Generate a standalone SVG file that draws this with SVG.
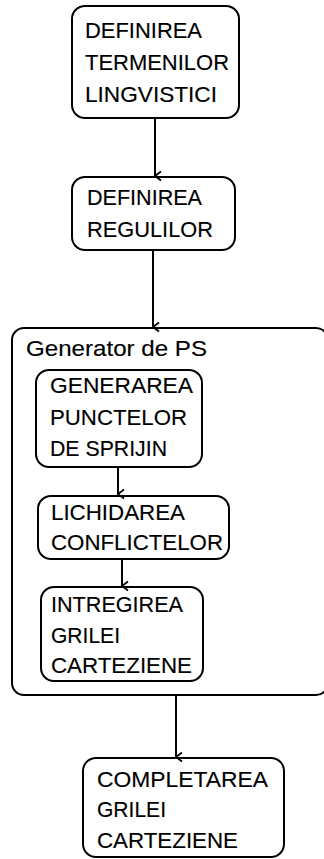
<svg xmlns="http://www.w3.org/2000/svg" width="324" height="859" viewBox="0 0 324 859">
<defs>
<style>
.box{fill:#fff;stroke:#000;stroke-width:2}
.grp{fill:none;stroke:#000;stroke-width:2}
.t{font-family:"Liberation Sans",Arial,sans-serif;font-size:22.5px;fill:#000;stroke:#000;stroke-width:0.15}
.c{stroke:#000;stroke-width:2;fill:none}
</style>
<marker id="arr" markerWidth="12" markerHeight="12" refX="6" refY="9" orient="auto" markerUnits="userSpaceOnUse" viewBox="0 0 12 12">
<path d="M1.5,3 L6,9 L10.5,3" fill="none" stroke="#000" stroke-width="1.8"/>
</marker>
</defs>
<rect width="324" height="859" fill="#fff"/>
<g id="generator">
<rect class="grp" x="12" y="328" width="316" height="367" rx="12"/>
<text class="t" x="26" y="356" textLength="181" lengthAdjust="spacingAndGlyphs">Generator de PS</text>
</g>
<g id="n1">
<rect class="box" x="72" y="6" width="167" height="112" rx="13"/>
<text class="t" x="85" y="38" textLength="117" lengthAdjust="spacingAndGlyphs">DEFINIREA</text>
<text class="t" x="85" y="70" textLength="144" lengthAdjust="spacingAndGlyphs">TERMENILOR</text>
<text class="t" x="85" y="102" textLength="132" lengthAdjust="spacingAndGlyphs">LINGVISTICI</text>
</g>
<g id="n2">
<rect class="box" x="72" y="177" width="163" height="73" rx="13"/>
<text class="t" x="87" y="205" textLength="115" lengthAdjust="spacingAndGlyphs">DEFINIREA</text>
<text class="t" x="87" y="237" textLength="126" lengthAdjust="spacingAndGlyphs">REGULILOR</text>
</g>
<g id="n3">
<rect class="box" x="36" y="370" width="166" height="97" rx="13"/>
<text class="t" x="50" y="393" textLength="143" lengthAdjust="spacingAndGlyphs">GENERAREA</text>
<text class="t" x="50" y="425" textLength="137" lengthAdjust="spacingAndGlyphs">PUNCTELOR</text>
<text class="t" x="50" y="456" textLength="117" lengthAdjust="spacingAndGlyphs">DE SPRIJIN</text>
</g>
<g id="n4">
<rect class="box" x="38" y="496" width="191" height="63" rx="13"/>
<text class="t" x="51" y="520" textLength="134" lengthAdjust="spacingAndGlyphs">LICHIDAREA</text>
<text class="t" x="51" y="550" textLength="172" lengthAdjust="spacingAndGlyphs">CONFLICTELOR</text>
</g>
<g id="n5">
<rect class="box" x="41" y="587" width="162" height="94" rx="13"/>
<text class="t" x="51" y="612" textLength="132" lengthAdjust="spacingAndGlyphs">INTREGIREA</text>
<text class="t" x="51" y="643" textLength="69" lengthAdjust="spacingAndGlyphs">GRILEI</text>
<text class="t" x="51" y="673" textLength="141" lengthAdjust="spacingAndGlyphs">CARTEZIENE</text>
</g>
<g id="n6">
<rect class="box" x="83" y="758" width="201" height="99" rx="13"/>
<text class="t" x="97" y="787" textLength="171" lengthAdjust="spacingAndGlyphs">COMPLETAREA</text>
<text class="t" x="97" y="817" textLength="69" lengthAdjust="spacingAndGlyphs">GRILEI</text>
<text class="t" x="97" y="848" textLength="141" lengthAdjust="spacingAndGlyphs">CARTEZIENE</text>
</g>
<g id="connectors">
<line class="c" x1="155" y1="118" x2="155" y2="176" marker-end="url(#arr)"/>
<line class="c" x1="153" y1="250" x2="153" y2="327" marker-end="url(#arr)"/>
<line class="c" x1="118" y1="467" x2="118" y2="494" marker-end="url(#arr)"/>
<line class="c" x1="122" y1="559" x2="122" y2="586" marker-end="url(#arr)"/>
<line class="c" x1="176" y1="695" x2="176" y2="757" marker-end="url(#arr)"/>
</g>
</svg>
